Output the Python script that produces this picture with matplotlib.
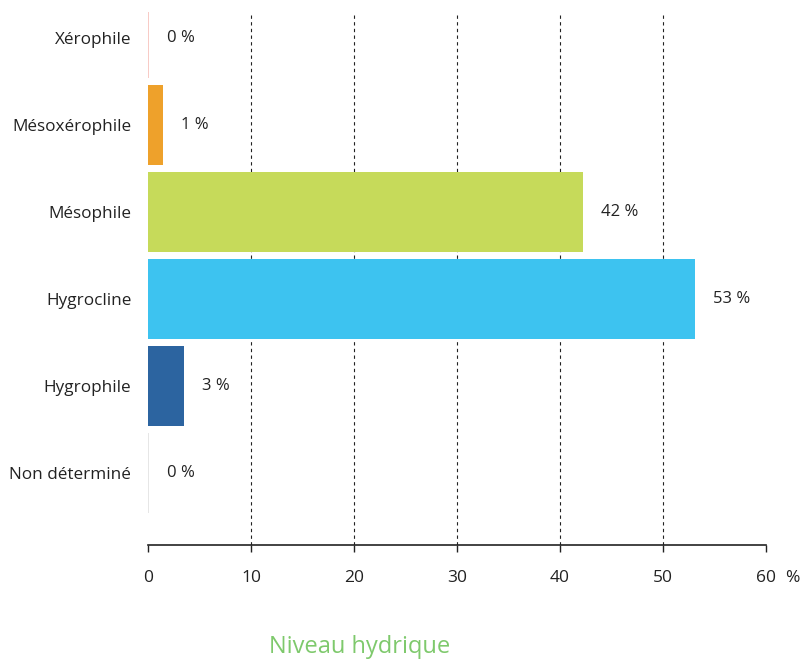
import matplotlib.pyplot as plt
import numpy as np

plt.rcParams['font.family'] = ['Open Sans', 'DejaVu Sans']

categories = ['Xérophile', 'Mésoxérophile', 'Mésophile', 'Hygrocline', 'Hygrophile', 'Non déterminé']
values = [0.1, 1.45, 42.2, 53.1, 3.5, 0.1]
labels = ['0 %', '1 %', '42 %', '53 %', '3 %', '0 %']
colors = ['#f8cbc6', '#eea12b', '#c6da5a', '#3dc3f0', '#2c64a0', '#e6e6e6']
xticks = [0, 10, 20, 30, 40, 50, 60]

fig = plt.figure(figsize=(8.06, 6.60), dpi=100)
ax = fig.add_axes([148 / 806, 115 / 660, 618 / 806, 533 / 660])

y = np.arange(len(categories))
ax.barh(y, values, height=0.92, color=colors, zorder=3)

for yi, v, lab in zip(y, values, labels):
    ax.annotate(lab, (v, yi), xytext=(13, 0), textcoords='offset points',
                va='center', ha='left', fontsize=12, color='#222222')

ax.set_xlim(0, 60)
ax.set_ylim(5.83, -0.30)
ax.set_yticks(y)
ax.set_yticklabels(categories, fontsize=12.3, color='#222222')
ax.set_xticks(xticks)
ax.set_xticklabels([str(t) for t in xticks], fontsize=12.5, color='#222222')
ax.tick_params(axis='y', length=0, pad=12)
ax.tick_params(axis='x', length=5, width=1, direction='out', pad=13, color='#222222')

for s in ['top', 'right', 'left']:
    ax.spines[s].set_visible(False)
ax.spines['bottom'].set_linewidth(1.2)
ax.spines['bottom'].set_color('#222222')

ax.xaxis.grid(True, linestyle=(0, (3, 3)), color='#222222', linewidth=0.8, zorder=0)
gl = ax.get_xgridlines()
gl[0].set_visible(False)
gl[-1].set_visible(False)

ax.annotate('%', (60, 0), xycoords=('data', 'axes fraction'), xytext=(14, -18),
            textcoords='offset points', ha='left', va='top', fontsize=12.5, color='#222222')

fig.text(360 / 806, 1 - 647 / 660, 'Niveau hydrique', ha='center', va='center',
         fontsize=17, color='#7ec96c')

fig.savefig('out.png', dpi=100)
